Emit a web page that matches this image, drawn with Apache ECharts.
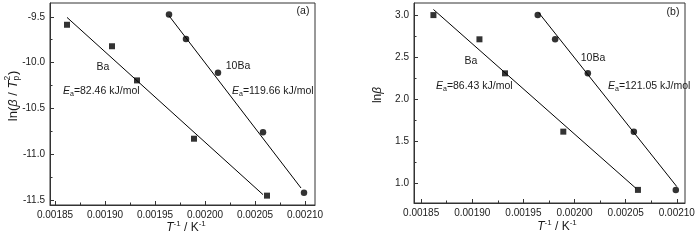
<!DOCTYPE html>
<html><head><meta charset="utf-8">
<script src="https://cdn.jsdelivr.net/npm/echarts@6/dist/echarts.min.js"></script>
<style>html,body{margin:0;padding:0;background:#fff}#c{width:700px;height:240px}</style>
</head><body><div id="c"></div>
<script>
// ---- data ----
const invT_Ba   = [0.001862, 0.001907, 0.001932, 0.001989, 0.002062];
const invT_10Ba = [0.001964, 0.001981, 0.002013, 0.002058, 0.002099];
const lnBT2_Ba   = [-9.587, -9.821, -10.193, -10.828, -11.448];
const lnBT2_10Ba = [-9.475, -9.741, -10.109, -10.759, -11.416];
const lnB_Ba   = [2.996, 2.708, 2.303, 1.609, 0.916];
const lnB_10Ba = [2.996, 2.708, 2.303, 1.609, 0.916];
// fitted lines (end points)
const fitA_Ba_x   = [0.001862, 0.002058]; const fitA_Ba_y   = [-9.507, -11.437];
const fitA_10Ba_x = [0.001964, 0.002096]; const fitA_10Ba_y = [-9.489, -11.365];
const fitB_Ba_x   = [0.001862, 0.002060]; const fitB_Ba_y   = [3.063, 0.935];
const fitB_10Ba_x = [0.001965, 0.002100]; const fitB_10Ba_y = [3.024, 0.955];
// ticks
const xTicks  = [0.00185, 0.00190, 0.00195, 0.00200, 0.00205, 0.00210];
const xMinor  = [0.001875, 0.001925, 0.001975, 0.002025, 0.002075];
const yTicksA = [-11.5, -11.0, -10.5, -10.0, -9.5];
const yMinorA = [-11.25, -10.75, -10.25, -9.75];
const yTicksB = [1.0, 1.5, 2.0, 2.5, 3.0];
const yMinorB = [1.25, 1.75, 2.25, 2.75];
const EaA = ['82.46', '119.66'];
const EaB = ['86.43', '121.05'];

const FONT = '"Liberation Sans", Arial, sans-serif';
const TXT = '#1a1a1a';
const AX = '#333';
const zip = (a, b) => a.map((v, i) => [v, b[i]]);

const ctx = document.createElement('canvas').getContext('2d');
function fstr(t) { return (t.italic ? 'italic ' : '') + t.size + 'px ' + FONT; }
function run(tokens, x, y, align, rotation) {
  let cx = 0; const kids = [];
  tokens.forEach(t => {
    ctx.font = fstr(t);
    const w = ctx.measureText(t.t).width;
    kids.push({ type: 'text', x: cx, y: t.dy || 0, silent: true,
      style: { text: t.t, font: fstr(t), fill: TXT, textAlign: 'left', textVerticalAlign: 'middle' } });
    if (!t.noAdv) cx += (t.adv != null ? t.adv : w);
  });
  const off = align === 'center' ? -cx / 2 : 0;
  kids.forEach(k => k.x += off);
  return { type: 'group', x: x, y: y, rotation: rotation || 0, silent: true, children: kids };
}
function plain(s, x, y, size) {
  return { type: 'text', x: x, y: y, silent: true,
    style: { text: s, font: size + 'px ' + FONT, fill: TXT, textAlign: 'center', textVerticalAlign: 'middle' } };
}
function eaLabel(val, x, y) {
  return run([{ t: 'E', size: 10.5, italic: true }, { t: 'a', size: 7, dy: 3 }, { t: '=' + val + ' kJ/mol', size: 10.5 }], x, y, 'left');
}
function xTitle(x, y) {
  return run([{ t: 'T', size: 12, italic: true }, { t: '-1', size: 8, dy: -4 }, { t: ' / K', size: 12 }, { t: '-1', size: 8, dy: -4 }], x, y, 'center');
}

function xAxes(gi, min, max) {
  return [
    { gridIndex: gi, type: 'value', position: 'bottom', min: min, max: max,
      axisLine: { show: true, onZero: false, lineStyle: { color: AX, width: 1 } },
      axisTick: { show: true, inside: true, length: 4, customValues: xTicks, lineStyle: { color: AX } },
      axisLabel: { customValues: xTicks, formatter: v => v.toFixed(5), fontSize: 10, color: TXT, fontFamily: FONT, margin: 5 },
      splitLine: { show: false } },
    { gridIndex: gi, type: 'value', position: 'bottom', min: min, max: max,
      axisLine: { show: false },
      axisTick: { show: true, inside: true, length: 2.5, customValues: xMinor, lineStyle: { color: AX } },
      axisLabel: { show: false }, splitLine: { show: false } }
  ];
}
function yAxes(gi, min, max, ticks, minor) {
  return [
    { gridIndex: gi, type: 'value', position: 'left', min: min, max: max,
      axisLine: { show: true, onZero: false, lineStyle: { color: AX, width: 1 } },
      axisTick: { show: true, inside: true, length: 4, customValues: ticks, lineStyle: { color: AX } },
      axisLabel: { customValues: ticks, formatter: v => v.toFixed(1), fontSize: 10, color: TXT, fontFamily: FONT, margin: 5 },
      splitLine: { show: false } },
    { gridIndex: gi, type: 'value', position: 'left', min: min, max: max,
      axisLine: { show: false },
      axisTick: { show: true, inside: true, length: 2.5, customValues: minor, lineStyle: { color: AX } },
      axisLabel: { show: false }, splitLine: { show: false } }
  ];
}
function pts(name, xi, yi, x, y, sym, size) {
  return { name: name, type: 'scatter', xAxisIndex: xi, yAxisIndex: yi, data: zip(x, y),
    symbol: sym, symbolSize: size, itemStyle: { color: '#000' }, z: 5, silent: true };
}
function fit(xi, yi, x, y) {
  return { type: 'line', xAxisIndex: xi, yAxisIndex: yi, data: zip(x, y), showSymbol: false,
    lineStyle: { color: '#000', width: 1 }, z: 4, silent: true, animation: false };
}

const chart = echarts.init(document.getElementById('c'), null, { renderer: 'canvas' });
chart.setOption({
  animation: false,
  backgroundColor: '#fff',
  grid: [
    { left: 50, top: 3, width: 265, height: 202, show: true, borderColor: AX, borderWidth: 1, backgroundColor: 'transparent', outerBoundsMode: 'none' },
    { left: 414, top: 3, width: 271, height: 200, show: true, borderColor: AX, borderWidth: 1, backgroundColor: 'transparent', outerBoundsMode: 'none' }
  ],
  xAxis: [...xAxes(0, 0.001845, 0.00211), ...xAxes(1, 0.001843, 0.002108)],
  yAxis: [...yAxes(0, -11.55, -9.35, yTicksA, yMinorA), ...yAxes(1, 0.76, 3.14, yTicksB, yMinorB)],
  series: [
    fit(0, 0, fitA_Ba_x, fitA_Ba_y),
    fit(0, 0, fitA_10Ba_x, fitA_10Ba_y),
    pts('Ba', 0, 0, invT_Ba, lnBT2_Ba, 'rect', 6),
    pts('10Ba', 0, 0, invT_10Ba, lnBT2_10Ba, 'circle', 6.5),
    fit(2, 2, fitB_Ba_x, fitB_Ba_y),
    fit(2, 2, fitB_10Ba_x, fitB_10Ba_y),
    pts('Ba', 2, 2, invT_Ba, lnB_Ba, 'rect', 6),
    pts('10Ba', 2, 2, invT_10Ba, lnB_10Ba, 'circle', 6.5)
  ],
  graphic: [
    plain('(a)', 303, 11, 10.5),
    plain('Ba', 103, 67, 10.5),
    eaLabel(EaA[0], 63, 91),
    plain('10Ba', 238, 66, 10.5),
    eaLabel(EaA[1], 232, 91),
    plain('(b)', 673, 12, 10.5),
    plain('Ba', 471, 61, 10.5),
    eaLabel(EaB[0], 436, 86),
    plain('10Ba', 593, 58, 10.5),
    eaLabel(EaB[1], 608, 86),
    xTitle(186, 228),
    xTitle(557, 227),
    run([{ t: 'ln(', size: 13 }, { t: 'β', size: 13, italic: true }, { t: ' / ', size: 13 }, { t: 'T', size: 13, italic: true },
         { t: '2', size: 8.5, dy: -5, noAdv: true }, { t: 'p', size: 8.5, dy: 4, adv: 5.5 }, { t: ')', size: 13 }], 13, 96, 'center', Math.PI / 2),
    run([{ t: 'ln', size: 12 }, { t: 'β', size: 12, italic: true }], 378, 95, 'center', Math.PI / 2)
  ]
});
</script></body></html>
